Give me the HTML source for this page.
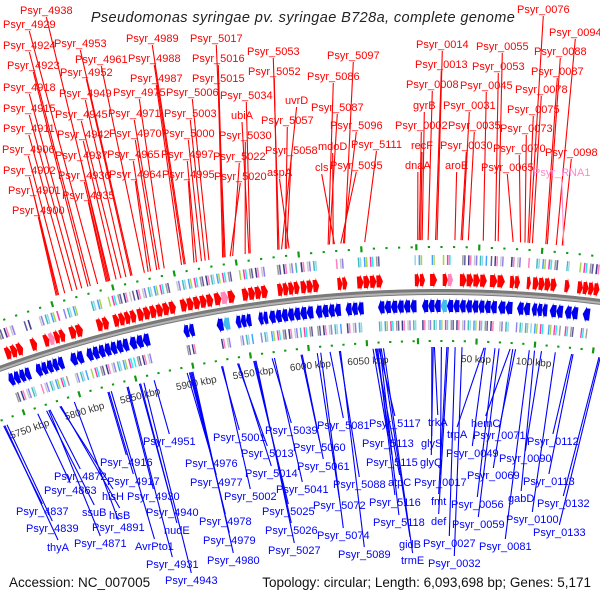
<!DOCTYPE html>
<html><head><meta charset="utf-8"><style>
html,body{margin:0;padding:0;background:#fff;width:600px;height:600px;overflow:hidden}
svg{display:block;font-family:"Liberation Sans",sans-serif}
</style></head><body>
<svg id="map" width="600" height="600" viewBox="0 0 600 600">
<text x="303" y="22" text-anchor="middle" font-size="14.5" font-style="italic" fill="#222" letter-spacing="0.4">Pseudomonas syringae pv. syringae B728a, complete genome</text>
<text x="9" y="587" font-size="13.5" fill="#111">Accession: NC_007005</text>
<text x="591" y="587" text-anchor="end" font-size="13.5" fill="#111">Topology: circular; Length: 6,093,698 bp; Genes: 5,171</text>
<g id="tracks"></g>
<g id="lines"></g>
<g id="labels"></g>
</svg>
<script>
// ---- data (kbp) ----
const genomeLen = 6093.7;
const tickPos = [5750,5800,5850,5900,5950,6000,6050,50,100];
const tickLabels = ["5750 kbp","5800 kbp","5850 kbp","5900 kbp","5950 kbp","6000 kbp","6050 kbp","50 kbp","100 kbp"];
const fwdRuns = [[5752,5767],[5774,5779],[5785,5803],[5807,5818],[5830,5840],[5844,5863],[5864,5896],[5900,5927],[5928,5945],[5951,5972],[5980,5998],[5999,6014],[6029,6037],[6045,6066],[6092,6.6],[10.7,16.4],[21,29.4],[35,57],[59.5,71.7],[75.8,84],[89.6,92.9],[94.5,114],[120.5,124.6],[131,149]];
const revRuns = [[5747,5766],[5771,5795],[5801,5812],[5815,5851],[5852,5869],[5898,5907],[5926,5937],[5942,5955],[5961,5969],[5970,5996],[5996,6007],[6009,6030],[6034,6049],[6061,6093],[3.8,66],[67,79],[82.8,93.6],[95,108],[110,121],[122.6,133.5],[137.6,143.5]];
const fwdNames = ["Psyr_4938","Psyr_4929","Psyr_4924","Psyr_4923","Psyr_4918","Psyr_4915","Psyr_4911","Psyr_4906","Psyr_4902","Psyr_4901","Psyr_4900","Psyr_4953","Psyr_4961","Psyr_4952","Psyr_4949","Psyr_4945","Psyr_4942","Psyr_4937","Psyr_4936","Psyr_4935","Psyr_4989","Psyr_4988","Psyr_4987","Psyr_4975","Psyr_4971","Psyr_4970","Psyr_4965","Psyr_4964","Psyr_5017","Psyr_5016","Psyr_5015","Psyr_5006","Psyr_5003","Psyr_5000","Psyr_4997","Psyr_4995","Psyr_5034","ubiA","Psyr_5030","Psyr_5022","Psyr_5020","Psyr_5053","Psyr_5052","uvrD","Psyr_5057","Psyr_5058","aspA","Psyr_5097","Psyr_5086","Psyr_5087","mdoD","cls","Psyr_5096","Psyr_5111","Psyr_5095","Psyr_0014","Psyr_0013","Psyr_0008","gyrB","Psyr_0002","recF","dnaA","Psyr_0055","Psyr_0053","Psyr_0045","Psyr_0031","Psyr_0035","Psyr_0030","aroE","Psyr_0065","Psyr_0070","Psyr_0073","Psyr_0075","Psyr_0078","Psyr_0087","Psyr_0088","Psyr_0076","Psyr_0094","Psyr_0098","Psyr_RNA1"];
const fwdPos = [5849,5839,5833,5831,5826,5822,5818,5812,5807,5806,5805,5867,5877,5866,5862,5858,5854,5848,5847,5846,5910,5909,5907,5893,5889,5887,5882,5880,5942,5941,5940,5929,5926,5923,5919,5917,5962,5961,5958,5948,5946,5985,5984,5987,5990,5991,5993,6037,6024,6025,6028,6029,6036,6053,6034,16.5,15.3,9.4,4.7,2.4,3.5,1.2,64.8,62.5,53.0,36.5,41.2,35.4,30.6,76.6,82.5,86.0,88.4,91.9,102.5,103.7,89.6,110.8,115.5,116.7];
const revNames = ["Psyr_4951","Psyr_4916","Psyr_4872","Psyr_4917","Psyr_4863","hisH","Psyr_4930","Psyr_4837","ssuB","Psyr_4940","hisB","Psyr_4839","Psyr_4891","nudE","thyA","Psyr_4871","AvrPto1","Psyr_4931","Psyr_4943","Psyr_4976","Psyr_4977","Psyr_4978","Psyr_4979","Psyr_4980","Psyr_5001","Psyr_5013","Psyr_5014","Psyr_5002","Psyr_5039","Psyr_5060","Psyr_5061","Psyr_5041","Psyr_5025","Psyr_5026","Psyr_5027","Psyr_5081","Psyr_5088","Psyr_5072","Psyr_5074","Psyr_5089","Psyr_5117","Psyr_5113","Psyr_5115","atpC","Psyr_5116","Psyr_5118","gidB","trmE","trkA","glyS","glyQ","Psyr_0017","fmt","def","Psyr_0027","Psyr_0032","hemC","trpA","Psyr_0071","Psyr_0049","Psyr_0069","Psyr_0056","Psyr_0059","Psyr_0081","Psyr_0090","Psyr_0112","gabD","Psyr_0113","Psyr_0100","Psyr_0132","Psyr_0133"];
const revPos = [5865,5824,5772,5825,5761,5781,5841,5730,5769,5852,5782,5733,5794,5853,5731,5771,5827,5842,5856,5894,5896,5897,5898,5899,5924,5938,5939,5925,5968,5993,5994,5970,5952,5953,5954,6018,6026,6007,6010,6027,6060,6055,6058,6057,6059,6061,6062,6064,14,11.8,13,20,24.7,25.9,31.8,37.7,79,56.6,83.7,57.7,81.3,66,69.5,95.5,106,132,100,133.2,117.9,155.6,156.7];
// ---- layout (label placement, px) ----
const fwdLX = [20,3,3,7,3,3,3,2,3,8,12,54,75,60,59,55,57,55,58,62,126,128,130,113,108,109,107,109,190,192,192,166,164,162,161,162,220,231,219,213,214,247,248,285,261,265,267,327,307,311,318,315,330,351,330,416,415,406,413,395,411,405,476,472,460,443,448,440,445,481,493,500,507,515,531,534,517,549,545,533];
const fwdLY = [10,24,45,65,87,108,128,149,170,190,210,43,59,72,93,114,134,155,175,195,38,58,78,92,113,133,154,174,38,58,78,92,113,133,154,174,95,115,135,156,176,51,71,100,120,150,172,55,76,107,146,167,125,144,165,44,64,84,105,125,145,165,46,66,85,105,125,145,165,167,148,128,109,89,71,51,9,32,152,172];
const revLX = [143,100,54,107,44,102,127,16,82,146,109,26,92,164,47,74,135,146,165,185,190,199,203,207,213,241,245,224,265,293,297,276,262,265,268,317,333,313,317,338,369,362,366,388,369,373,399,401,428,421,420,414,431,431,423,428,471,447,473,446,467,451,452,479,499,527,508,523,506,537,533];
const revLY = [441,462,476,481,490,496,496,511,512,512,515,528,527,530,547,543,546,564,580,463,482,521,540,560,437,453,473,496,430,447,466,489,511,530,550,425,484,505,535,554,423,443,462,482,502,522,544,560,422,443,462,482,501,521,543,563,423,434,435,453,475,504,524,546,458,441,498,481,519,503,532];

const palette = ['#ff1493','#87ceeb','#4682b4','#8a8a8a','#9acd32','#6b8e23','#191970','#00e5ee','#ff8c00','#c0c0c0','#483d8b','#bdb76b','#20b2aa','#ff69b4','#556b2f','#1e90ff','#7b68ee','#228b22'];
const NS='http://www.w3.org/2000/svg';
const CX=440, CY=1592, K=0.000936, OFF=18.8;
function ang(p){ if(p>3000) p-=genomeLen; return (p-OFF)*K; }
function pa(a,r){ return [CX+r*Math.sin(a), CY-r*Math.cos(a)]; }
function pt(p,r){ return pa(ang(p),r); }
function mk(tag,parent){ const e=document.createElementNS(NS,tag); parent.appendChild(e); return e; }
const tracks=document.getElementById('tracks'), lines=document.getElementById('lines'), labels=document.getElementById('labels');
function pts(arr){ return arr.map(q=>q[0].toFixed(2)+','+q[1].toFixed(2)).join(' '); }

// backbone
function arcPath(r,a0,a1){ let d=''; for(let a=a0;a<=a1+1e-9;a+=0.004){const q=pa(a,r); d+=(d?'L':'M')+q[0].toFixed(2)+','+q[1].toFixed(2);} return d; }
const bb=mk('path',tracks);


bb.setAttribute('d',arcPath(1300,-0.4,0.16)); bb.setAttribute('fill','none'); bb.setAttribute('stroke','#7a7a7a'); bb.setAttribute('stroke-width','6');
const bb2=mk('path',tracks);


bb2.setAttribute('d',arcPath(1299,-0.4,0.16)); bb2.setAttribute('fill','none'); bb2.setAttribute('stroke','#b5b5b5'); bb2.setAttribute('stroke-width','2');

// gene arrows + COG boxes
let gi=0;
function drawRuns(runs,dir){
  runs.forEach(function(run){
    const a0=ang(run[0]), a1=ang(run[1]);
    const n=Math.max(1,Math.round((a1-a0)/K/5));
    const step=(a1-a0)/n;
    for(let i=0;i<n;i++){
      const s=a0+i*step, e=a0+(i+1)*step;
      const r1=dir>0?1306:1280, r2=dir>0?1318:1292, rm=(r1+r2)/2;
      const head=Math.min(step*0.5, 3.2*K);
      let p;
      if(dir>0){ p=[pa(s,r1),pa(e-head,r1),pa(e-head,r1-2),pa(e,rm),pa(e-head,r2+2),pa(e-head,r2),pa(s,r2)]; }
      else { p=[pa(e,r1),pa(s+head,r1),pa(s+head,r1-2),pa(s,rm),pa(s+head,r2+2),pa(s+head,r2),pa(e,r2)]; }
      const poly=mk('polygon',tracks);
      
      
      poly.setAttribute('points',pts(p));
      poly.setAttribute('fill',dir>0?(gi%23===5?'#ff88bb':'#ff0000'):(gi%29===7?'#44bbee':'#0000ee'));
      gi++;
    }
    // COG boxes (thin stripes, sparse)
    const m=Math.max(1,Math.round((a1-a0)/K/1.6));
    const st=(a1-a0)/m;
    for(let j=0;j<m;j++){
      if((j+gi)%3===2) continue;
      const c0=a0+j*st, c1=c0+st*0.75;
      const q1=dir>0?1327:1262, q2=dir>0?1337:1272;
      const box=mk('polygon',tracks);
      
      
      box.setAttribute('points',pts([pa(c0,q1),pa(c1,q1),pa(c1,q2),pa(c0,q2)]));
      box.setAttribute('fill',palette[((j+gi)*7)%palette.length]);
      box.setAttribute('opacity','0.85');
    }
  });
}
drawRuns(fwdRuns,1);
drawRuns(revRuns,-1);

// green tick rings
function drawTick(p){
  const major=(Math.round(p)%50===0);
  [1345,1251].forEach(function(rr){
    const a=ang(p); const len=major?6:2;
    const q1=pa(a,rr-len/2), q2=pa(a,rr+len/2);
    const l=mk('line',tracks);
    
    
    l.setAttribute('x1',q1[0]);l.setAttribute('y1',q1[1]);l.setAttribute('x2',q2[0]);l.setAttribute('y2',q2[1]);
    l.setAttribute('stroke','#119911'); l.setAttribute('stroke-width','2.2');
  });
}
for(let p=5720;p<=6093;p+=10){ drawTick(p); }
for(let p=0;p<=170;p+=10){ drawTick(p); }
// tick labels
tickPos.forEach(function(p,i){
  const a=ang(p), q=pa(a,1233);
  const t=mk('text',tracks);
  
  
  t.setAttribute('x',q[0]); t.setAttribute('y',q[1]+3);
  t.setAttribute('text-anchor','middle'); t.setAttribute('font-size','10'); t.setAttribute('fill','#333');
  t.setAttribute('transform','rotate('+(a*180/Math.PI).toFixed(2)+' '+q[0]+' '+q[1]+')');
  t.textContent=tickLabels[i];
});

// gene labels
function drawLabels(names,pos,lx,ly,dir){
  names.forEach(function(nm,i){
    const pink=nm==='Psyr_RNA1';
    const col=dir>0?(pink?'#ff88cc':'#ff0000'):'#0000ff';
    const t=mk('text',labels);
    
    
    t.setAttribute('x',lx[i]); t.setAttribute('y',ly[i]+4);
    t.setAttribute('font-size','11'); t.setAttribute('fill',col);
    t.textContent=nm;
    const w=t.getComputedTextLength?t.getComputedTextLength():nm.length*5.5;
    const cx=lx[i]+w/2;
    const g=pt(pos[i],dir>0?1352:1245);
    const l=mk('line',lines);
    
    
    l.setAttribute('x1',cx); l.setAttribute('y1',dir>0?ly[i]+7:ly[i]-7);
    l.setAttribute('x2',g[0]); l.setAttribute('y2',g[1]);
    l.setAttribute('stroke',col); l.setAttribute('stroke-width','1.1');
  });
}
drawLabels(fwdNames,fwdPos,fwdLX,fwdLY,1);
drawLabels(revNames,revPos,revLX,revLY,-1);
</script>
</body></html>
